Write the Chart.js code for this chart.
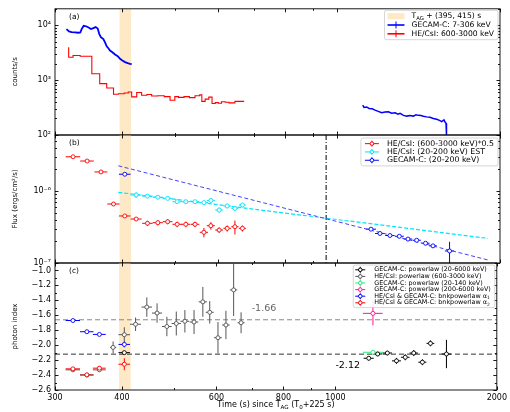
<!DOCTYPE html>
<html>
<head>
<meta charset="utf-8">
<title>Light curve, flux and photon index</title>
<script src="https://cdn.jsdelivr.net/npm/chart.js@4.4.1/dist/chart.umd.min.js"></script>
<style>
  html, body { margin: 0; padding: 0; background: #fff; }
  #fig { position: relative; width: 510px; height: 412px; }
  #fig canvas { position: absolute; left: 0; top: 0; }
</style>
</head>
<body>
<div id="fig">
  <canvas id="panelA" width="510" height="412"></canvas>
  <canvas id="panelB" width="510" height="412"></canvas>
  <canvas id="panelC" width="510" height="412"></canvas>
</div>
<script>
// shared time axis (s since T_AG, log)
const xTicks = [300, 400, 500, 600, 700, 800, 900, 1000, 2000];
const xTickLabels = ["300", "400", "", "600", "", "800", "", "1000", "2000"];
const bandRange = [395, 415];

// (a) count rates
const gecamTimeA = [315, 318.5, 322, 326.7, 331.4, 334.2, 336.1, 339, 343.4, 346.8, 349.8, 353.3, 356.8, 359.9, 362.4, 365, 368.7, 371.3, 374, 376.6, 379.3, 383.1, 387.5, 392, 395.9, 399.8, 404.4, 409, 413.1, 416.1];
const gecamRateA = [8530, 7730, 7520, 7420, 7320, 7420, 8530, 9790, 9520, 9010, 8530, 8890, 9270, 8760, 6920, 6030, 5620, 4890, 4140, 3810, 3460, 3230, 2930, 2730, 2450, 2280, 2130, 2040, 1985, 1957];
const gecamTimeA2 = [1114, 1120, 1132, 1145, 1160, 1174, 1190, 1208, 1225, 1243, 1260, 1279, 1295, 1306, 1325, 1344, 1362, 1382, 1398, 1412, 1428, 1443, 1462, 1484, 1505, 1527, 1545, 1560, 1575, 1583, 1589, 1592];
const gecamRateA2 = [350, 318, 325, 305, 300, 284, 270, 254, 262, 265, 250, 254, 240, 248, 228, 221, 226, 221, 234, 228, 226, 219, 214, 210, 200, 193, 185, 175, 188, 170, 163, 100];
const csiTimeA = [318, 324, 334, 351, 363, 374, 385, 393, 403, 410, 416, 425, 434, 444, 453, 465, 478, 490, 500, 508, 520, 532, 545, 556, 561, 569, 578, 586, 594, 602, 610, 620, 630, 646, 656, 672];
const csiRateA = [3970, 2620, 2810, 2730, 1310, 865, 720, 554, 565, 585, 609, 495, 594, 531, 547, 515, 520, 500, 431, 500, 485, 500, 480, 520, 540, 410, 450, 490, 375, 390, 380, 405, 395, 385, 410, 410];
const rateTicks = [100, 200, 300, 400, 500, 600, 700, 800, 900, 1000, 2000, 3000, 4000, 5000, 6000, 7000, 8000, 9000, 10000, 20000];

// (b) energy flux
const csiFluxTime = [324, 344, 365, 385, 404, 424, 445, 465, 485, 505, 524, 545, 566, 583, 604, 625, 646, 667];
const csiFlux = [2.99e-6, 2.61e-6, 1.84e-6, 6.6e-7, 4.5e-7, 4.08e-7, 3.56e-7, 3.63e-7, 3.75e-7, 3.45e-7, 3.45e-7, 3.45e-7, 2.67e-7, 3.3e-7, 2.87e-7, 3.03e-7, 3.19e-7, 3.03e-7];
const csiFluxErr = [0.8e-7, 0.7e-7, 0.5e-7, 0.25e-7, 0.15e-7, 0.2e-7, 0.3e-7, 0.3e-7, 0.3e-7, 0.3e-7, 0.3e-7, 0.3e-7, 0.4e-7, 0.4e-7, 0.25e-7, 0.3e-7, 0.7e-7, 0.3e-7];
const estFluxTime = [424, 445, 465, 485, 505, 524, 545, 566, 583, 604, 625, 646, 667];
const estFlux = [8.8e-7, 8.5e-7, 8.2e-7, 7.9e-7, 7.1e-7, 7.1e-7, 7.1e-7, 6.9e-7, 7.4e-7, 5.45e-7, 6.2e-7, 5.75e-7, 6.4e-7];
const estFluxErr = [0.8e-7, 0.5e-7, 0.5e-7, 0.45e-7, 0.45e-7, 0.45e-7, 0.45e-7, 0.45e-7, 0.45e-7, 0.45e-7, 0.45e-7, 0.45e-7, 0.45e-7];
const gecamFluxTime = [404, 1154, 1199, 1251, 1302, 1351, 1402, 1456, 1503, 1613];
const gecamFlux = [1.71e-6, 2.95e-7, 2.57e-7, 2.41e-7, 2.35e-7, 2.15e-7, 2.07e-7, 1.88e-7, 1.73e-7, 1.47e-7];
const gecamFluxErr = [0.5e-7, 0.1e-7, 0.1e-7, 0.08e-7, 0.08e-7, 0.08e-7, 0.08e-7, 0.08e-7, 0.08e-7, 0.5e-7];
const gecamFluxHalfBin = [10, 25, 25, 25, 25, 25, 25, 25, 25, 32];
const gecamFitTime = [393, 1901];
const gecamFit = [2.24e-6, 1.1e-7];
const estFitTime = [393, 1901];
const estFit = [9.6e-7, 2.2e-7];
const breakTime = 953;
const fluxTicks = [1e-7, 2e-7, 3e-7, 4e-7, 5e-7, 6e-7, 7e-7, 8e-7, 9e-7, 1e-6, 2e-6, 3e-6, 4e-6, 5e-6, 6e-6];

// (c) photon index
const csiIdxTime = [324, 344, 363, 385, 404, 424, 445, 465, 485, 505, 524, 545, 566, 583, 604, 625, 646, 667];
const csiIdx = [-2.33, -2.40, -2.33, -2.03, -1.86, -1.72, -1.49, -1.57, -1.75, -1.71, -1.68, -1.69, -1.42, -1.56, -1.90, -1.73, -1.26, -1.70];
const csiIdxErr = [0.02, 0.02, 0.02, 0.08, 0.1, 0.09, 0.13, 0.13, 0.13, 0.16, 0.15, 0.16, 0.2, 0.15, 0.21, 0.19, 0.35, 0.14];
const csiIdxHalfBin = [10, 10, 10, 5, 10, 10, 10, 10, 10, 10, 10, 10, 10, 10, 10, 10, 10, 10];
const gecamIdxTime = [404, 1154, 1199, 1250, 1300, 1350, 1400, 1453, 1504, 1611];
const gecamIdx = [-2.10, -2.175, -2.118, -2.105, -2.21, -2.162, -2.105, -2.228, -1.976, -2.118];
const gecamIdxErr = [0.01, 0.03, 0.03, 0.03, 0.04, 0.04, 0.04, 0.04, 0.04, 0.19];
const gecamIdxHalfBin = [10, 25, 25, 25, 25, 25, 25, 25, 25, 32];
const lowIdxTime = [1175];
const lowIdx = [-2.095];
const highIdxTime = [1175];
const highIdx = [-1.574];
const bknTime = [324, 344, 363, 404];
const alpha1 = [-1.67, -1.82, -1.856, -1.99];
const alpha1Err = [0.01, 0.01, 0.01, 0.04];
const alpha2 = [-2.317, -2.397, -2.308, -2.255];
const alpha2Err = [0.02, 0.02, 0.03, 0.08];
const idxRefLines = [-1.66, -2.12];
const idxTicks = [-2.6, -2.5, -2.4, -2.3, -2.2, -2.1, -2.0, -1.9, -1.8, -1.7, -1.6, -1.5, -1.4, -1.3, -1.2, -1.1, -1.0, -0.9];

Chart.defaults.font.family = "'DejaVu Sans', sans-serif";
Chart.defaults.color = "#000";

const FONT = "'DejaVu Sans', sans-serif";
const BAND = "#fde9c6";
const SUP = { "0": "⁰", "1": "¹", "2": "²", "3": "³", "4": "⁴", "5": "⁵", "6": "⁶", "7": "⁷", "8": "⁸", "9": "⁹", "-": "⁻" };

function powLabel(v) {
  const e = Math.log10(v);
  if (Math.abs(e - Math.round(e)) > 1e-6) return "";
  return "10" + String(Math.round(e)).split("").map(c => SUP[c]).join("");
}

function pts(xs, ys) {
  return xs.map((x, i) => ({ x, y: ys[i] }));
}

function pick(e, i) {
  return Array.isArray(e) ? e[i] : e;
}

function lineSet(xs, ys, color, width, extra) {
  return Object.assign({ data: pts(xs, ys), showLine: true, borderColor: color, borderWidth: width, pointRadius: 0, fill: false }, extra);
}

function markSet(xs, ys, color, errX, errY, extra) {
  return Object.assign({
    data: pts(xs, ys), showLine: false, borderColor: color, backgroundColor: "#fff",
    pointRadius: 2, pointBorderWidth: 0.9, errX, errY, errColor: color,
  }, extra);
}

function richWidth(ctx, parts, size) {
  return parts.reduce((w, [t, sub]) => {
    ctx.font = (sub ? size * 0.7 : size) + "px " + FONT;
    return w + ctx.measureText(t).width;
  }, 0);
}

function drawRich(ctx, parts, x, y, size, align) {
  let cx = align === "center" ? x - richWidth(ctx, parts, size) / 2 : x;
  ctx.textAlign = "left";
  ctx.textBaseline = "middle";
  parts.forEach(([t, sub]) => {
    ctx.font = (sub ? size * 0.7 : size) + "px " + FONT;
    ctx.fillText(t, cx, sub ? y + size * 0.28 : y);
    cx += ctx.measureText(t).width;
  });
}

function asParts(t) {
  return typeof t === "string" ? [[t, 0]] : t;
}

function drawLegend(ctx, a, lg) {
  const items = lg.items.map(it => Object.assign({}, it, { parts: asParts(it.text) }));
  const tw = Math.max(...items.map(it => richWidth(ctx, it.parts, lg.size)));
  const w = lg.textX + tw + 4;
  const h = lg.rowH * items.length + 3;
  const left = a.right - 2 - w, top = a.top + lg.top;
  ctx.save();
  ctx.fillStyle = "rgba(255,255,255,0.85)";
  ctx.strokeStyle = "#cccccc";
  ctx.lineWidth = 0.8;
  ctx.beginPath();
  ctx.roundRect(left, top, w, h, 2);
  ctx.fill();
  ctx.stroke();
  items.forEach((it, i) => {
    const cy = top + 1.5 + lg.rowH * (i + 0.5);
    const cx = left + lg.symX;
    ctx.strokeStyle = it.color;
    ctx.fillStyle = it.color;
    if (it.kind === "patch") {
      ctx.fillRect(cx - 8.5, cy - 3, 17, 6);
    } else if (it.kind === "line") {
      ctx.lineWidth = 1.6;
      ctx.beginPath(); ctx.moveTo(cx - 8.5, cy); ctx.lineTo(cx + 8.5, cy); ctx.stroke();
      ctx.lineWidth = 1;
      ctx.beginPath(); ctx.moveTo(cx, cy - 3.5); ctx.lineTo(cx, cy + 3.5); ctx.stroke();
    } else {
      ctx.lineWidth = 1;
      ctx.beginPath();
      ctx.moveTo(cx - lg.barW, cy); ctx.lineTo(cx + lg.barW, cy);
      ctx.moveTo(cx, cy - 3); ctx.lineTo(cx, cy + 3);
      ctx.stroke();
      ctx.fillStyle = "#fff";
      ctx.beginPath(); ctx.arc(cx, cy, 1.8, 0, Math.PI * 2); ctx.fill(); ctx.stroke();
    }
    ctx.fillStyle = "#000";
    drawRich(ctx, it.parts, left + lg.textX, cy, lg.size, "left");
  });
  ctx.restore();
}

const decor = {
  id: "decor",
  beforeDatasetsDraw(chart, args, o) {
    const { ctx, chartArea: a, scales: { x, y } } = chart;
    ctx.save();
    ctx.beginPath();
    ctx.rect(a.left, a.top, a.right - a.left, a.bottom - a.top);
    ctx.clip();
    const b0 = x.getPixelForValue(bandRange[0]), b1 = x.getPixelForValue(bandRange[1]);
    ctx.fillStyle = BAND;
    ctx.fillRect(b0, a.top, b1 - b0, a.bottom - a.top);
    (o.hlines || []).forEach(h => {
      const py = y.getPixelForValue(h.value);
      ctx.strokeStyle = h.color; ctx.lineWidth = 1; ctx.setLineDash(h.dash);
      ctx.beginPath(); ctx.moveTo(a.left, py); ctx.lineTo(a.right, py); ctx.stroke();
    });
    (o.vlines || []).forEach(v => {
      const px = x.getPixelForValue(v.value);
      ctx.strokeStyle = v.color; ctx.lineWidth = 1; ctx.setLineDash(v.dash);
      ctx.beginPath(); ctx.moveTo(px, a.top); ctx.lineTo(px, a.bottom); ctx.stroke();
    });
    ctx.setLineDash([]);
    chart.data.datasets.forEach(ds => {
      if (!ds.errX && !ds.errY) return;
      ctx.strokeStyle = ds.errColor;
      ctx.lineWidth = ds.errWidth || 1;
      ctx.beginPath();
      ds.data.forEach((p, j) => {
        const px = x.getPixelForValue(p.x), py = y.getPixelForValue(p.y);
        const ex = pick(ds.errX, j), ey = pick(ds.errY, j);
        if (ex) { ctx.moveTo(x.getPixelForValue(p.x - ex), py); ctx.lineTo(x.getPixelForValue(p.x + ex), py); }
        if (ey) { ctx.moveTo(px, y.getPixelForValue(p.y - ey)); ctx.lineTo(px, y.getPixelForValue(p.y + ey)); }
      });
      ctx.stroke();
    });
    ctx.restore();
  },
  afterDraw(chart, args, o) {
    const { ctx, chartArea: a, scales: { x, y } } = chart;
    ctx.save();
    // frame and inward ticks on all sides
    ctx.strokeStyle = "#000";
    ctx.lineWidth = 0.9;
    ctx.strokeRect(a.left, a.top, a.right - a.left, a.bottom - a.top);
    ctx.beginPath();
    xTicks.forEach((v, i) => {
      const px = Math.round(x.getPixelForValue(v)) + 0.5;
      const len = xTickLabels[i] ? 3.5 : 2;
      ctx.moveTo(px, a.bottom); ctx.lineTo(px, a.bottom - len);
      ctx.moveTo(px, a.top); ctx.lineTo(px, a.top + len);
    });
    y.ticks.forEach(t => {
      const py = Math.round(y.getPixelForValue(t.value)) + 0.5;
      const len = t.label ? 3.5 : 2;
      ctx.moveTo(a.left, py); ctx.lineTo(a.left + len, py);
      ctx.moveTo(a.right, py); ctx.lineTo(a.right - len, py);
    });
    ctx.stroke();
    // panel tag
    ctx.fillStyle = "#000";
    ctx.font = "7.5px " + FONT;
    ctx.textAlign = "left";
    ctx.textBaseline = "middle";
    ctx.fillText(o.tag, a.left + 14, a.top + 8);
    (o.texts || []).forEach(t => {
      ctx.fillStyle = t.color;
      ctx.font = t.size + "px " + FONT;
      ctx.textAlign = "left";
      ctx.fillText(t.text, x.getPixelForValue(t.x), y.getPixelForValue(t.y));
    });
    if (o.legend) drawLegend(ctx, a, o.legend);
    if (o.xTitle) {
      ctx.fillStyle = "#000";
      drawRich(ctx, o.xTitle, (a.left + a.right) / 2, a.bottom + 15, 8, "center");
    }
    ctx.restore();
  },
};

function panelOptions(top, bottom, showX, yScale, deco) {
  return {
    responsive: false,
    animation: false,
    layout: { padding: { top, bottom, left: 0, right: 10 } },
    plugins: { legend: { display: false }, tooltip: { enabled: false }, decor: deco },
    scales: {
      x: {
        type: "logarithmic", min: 300, max: 2000, bounds: "data", display: showX,
        afterBuildTicks: s => { s.ticks = xTicks.map(v => ({ value: v })); },
        afterFit: s => { s.height = showX ? 22 : 0; },
        grid: { display: false, drawTicks: false },
        border: { display: false },
        ticks: {
          autoSkip: false, maxRotation: 0, padding: 3, font: { size: 8 },
          callback: v => xTickLabels[xTicks.indexOf(v)] || "",
        },
      },
      y: Object.assign({
        bounds: "data",
        afterFit: s => { s.width = 55; },
        grid: { display: false, drawTicks: false },
        border: { display: false },
      }, yScale),
    },
  };
}

function yTitle(text) {
  return { display: true, text, font: { size: 7 }, padding: { top: 11, bottom: 0 } };
}

// panel (a)
new Chart(document.getElementById("panelA"), {
  type: "scatter",
  data: {
    datasets: [
      lineSet(csiTimeA, csiRateA, "#ff0000", 1.1, { stepped: "after" }),
      lineSet(gecamTimeA, gecamRateA, "#0000ff", 1.8),
      lineSet(gecamTimeA2, gecamRateA2, "#0000ff", 1.5),
    ],
  },
  options: panelOptions(8, 277, false, {
    type: "logarithmic", min: 100, max: 20000,
    afterBuildTicks: s => { s.ticks = rateTicks.map(v => ({ value: v })); },
    ticks: { autoSkip: false, padding: 4, font: { size: 8 }, callback: v => powLabel(v) },
    title: yTitle("counts/s"),
  }, {
    tag: "(a)",
    legend: {
      size: 7.6, rowH: 8.8, top: 1.5, symX: 11.5, textX: 27,
      items: [
        { kind: "patch", color: BAND, text: [["T", 0], ["AG", 1], [" + (395, 415) s", 0]] },
        { kind: "line", color: "#0000ff", text: "GECAM-C: 7-306 keV" },
        { kind: "line", color: "#ff0000", text: "HE/CsI: 600-3000 keV" },
      ],
    },
  }),
  plugins: [decor],
});

// panel (b)
new Chart(document.getElementById("panelB"), {
  type: "scatter",
  data: {
    datasets: [
      markSet(gecamFluxTime, gecamFlux, "#0000ff", gecamFluxHalfBin, gecamFluxErr),
      markSet(estFluxTime, estFlux, "#00e5ff", 10, estFluxErr),
      markSet(csiFluxTime, csiFlux, "#ff0000", 10, csiFluxErr),
      lineSet(gecamFitTime, gecamFit, "#4444ff", 1, { borderDash: [4, 2.5] }),
      lineSet(estFitTime, estFit, "#00e5ff", 1.2, { borderDash: [4, 2] }),
    ],
  },
  options: panelOptions(135, 149, false, {
    type: "logarithmic", min: 1e-7, max: 6e-6,
    afterBuildTicks: s => { s.ticks = fluxTicks.map(v => ({ value: v })); },
    ticks: { autoSkip: false, padding: 4, font: { size: 8 }, callback: v => powLabel(v) },
    title: yTitle("Flux (ergs/cm²/s)"),
  }, {
    tag: "(b)",
    vlines: [{ value: breakTime, color: "#000", dash: [5, 2, 1, 2] }],
    legend: {
      size: 7.8, rowH: 8.3, top: 3, symX: 11, textX: 26, barW: 7,
      items: [
        { kind: "mark", color: "#ff0000", text: "HE/CsI: (600-3000 keV)*0.5" },
        { kind: "mark", color: "#00e5ff", text: "HE/CsI: (20-200 keV) EST" },
        { kind: "mark", color: "#0000ff", text: "GECAM-C: (20-200 keV)" },
      ],
    },
  }),
  plugins: [decor],
});

// panel (c)
new Chart(document.getElementById("panelC"), {
  type: "scatter",
  data: {
    datasets: [
      markSet(bknTime, alpha2, "#ff0000", 10, alpha2Err),
      markSet(bknTime, alpha1, "#0000ff", 10, alpha1Err),
      markSet(highIdxTime, highIdx, "#ff1493", 50, 0.16),
      markSet(lowIdxTime, lowIdx, "#22ee77", 50, 0.01),
      markSet(gecamIdxTime, gecamIdx, "#000000", gecamIdxHalfBin, gecamIdxErr),
      markSet(csiIdxTime, csiIdx, "#555555", csiIdxHalfBin, csiIdxErr),
    ],
  },
  options: panelOptions(263, 0, true, {
    type: "linear", min: -2.6, max: -0.9,
    afterBuildTicks: s => { s.ticks = idxTicks.map(v => ({ value: v })); },
    ticks: {
      autoSkip: false, padding: 4, font: { size: 8 },
      callback: v => {
        const k = Math.round(v * 10);
        return k % 2 === 0 && k <= -10 ? "\u2212" + (Math.abs(k) / 10).toFixed(1) : "";
      },
    },
    title: yTitle("photon index"),
  }, {
    tag: "(c)",
    hlines: [
      { value: idxRefLines[0], color: "#888888", dash: [5, 3] },
      { value: idxRefLines[1], color: "#333333", dash: [5, 3] },
    ],
    texts: [
      { text: "-1.66", x: 698, y: -1.51, size: 9.5, color: "#666666" },
      { text: "-2.12", x: 1000, y: -2.27, size: 9.5, color: "#000000" },
    ],
    legend: {
      size: 6.4, rowH: 6.6, top: 2, symX: 7, textX: 21, barW: 5,
      items: [
        { kind: "mark", color: "#000000", text: "GECAM-C: powerlaw (20-6000 keV)" },
        { kind: "mark", color: "#555555", text: "HE/CsI: powerlaw (600-3000 keV)" },
        { kind: "mark", color: "#22ee77", text: "GECAM-C: powerlaw (20-140 keV)" },
        { kind: "mark", color: "#ff1493", text: "GECAM-C: powerlaw (200-6000 keV)" },
        { kind: "mark", color: "#0000ff", text: [["HE/CsI & GECAM-C: bnkpowerlaw α", 0], ["1", 1]] },
        { kind: "mark", color: "#ff0000", text: [["HE/CsI & GECAM-C: bnkpowerlaw α", 0], ["2", 1]] },
      ],
    },
    xTitle: [["Time (s) since T", 0], ["AG", 1], [" (T", 0], ["0", 1], ["+225 s)", 0]],
  }),
  plugins: [decor],
});
</script>
</body>
</html>
